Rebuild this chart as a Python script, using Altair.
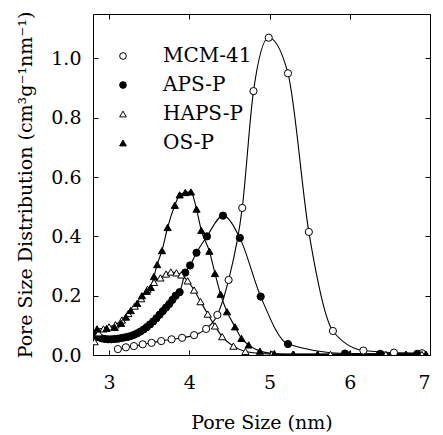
import altair as alt
import pandas as pd

# ---- data ----
series_names = ["MCM-41", "APS-P", "HAPS-P", "OS-P"]

mcm_x = [3.11, 3.21, 3.31, 3.42, 3.53, 3.65, 3.78, 3.91, 4.06, 4.21, 4.35, 4.49, 4.66, 4.80, 4.99, 5.23, 5.49, 5.79, 6.17, 6.55, 6.90]
mcm_y = [0.020, 0.026, 0.030, 0.036, 0.041, 0.047, 0.053, 0.058, 0.067, 0.088, 0.135, 0.253, 0.496, 0.890, 1.070, 0.950, 0.415, 0.081, 0.015, 0.008, 0.006]

aps_x = [2.83, 2.87, 2.91, 2.95, 2.99, 3.03, 3.07, 3.11, 3.15, 3.19, 3.23, 3.27, 3.31, 3.35, 3.39, 3.43, 3.47, 3.51, 3.55, 3.59, 3.63, 3.67, 3.71, 3.75, 3.79, 3.83, 3.88, 3.95, 4.01, 4.09, 4.22, 4.42, 4.63, 4.89, 5.23, 5.94, 6.38, 6.84]
aps_y = [0.065, 0.060, 0.056, 0.054, 0.053, 0.053, 0.054, 0.055, 0.057, 0.059, 0.061, 0.064, 0.068, 0.073, 0.079, 0.086, 0.094, 0.103, 0.113, 0.124, 0.136, 0.148, 0.160, 0.172, 0.186, 0.200, 0.212, 0.278, 0.302, 0.345, 0.400, 0.470, 0.395, 0.197, 0.037, 0.005, 0.004, 0.004]

haps_x = [2.82, 2.87, 2.93, 3.00, 3.08, 3.16, 3.24, 3.32, 3.40, 3.48, 3.56, 3.64, 3.71, 3.77, 3.84, 3.90, 3.98, 4.06, 4.14, 4.23, 4.32, 4.41, 4.55, 4.70, 5.03, 5.29, 5.76, 6.45, 6.90]
haps_y = [0.045, 0.075, 0.088, 0.095, 0.102, 0.118, 0.140, 0.165, 0.190, 0.222, 0.245, 0.260, 0.273, 0.280, 0.277, 0.270, 0.250, 0.219, 0.180, 0.138, 0.098, 0.062, 0.030, 0.012, 0.003, 0.002, 0.002, 0.002, 0.002]

os_x = [2.85, 2.97, 3.07, 3.15, 3.21, 3.27, 3.35, 3.41, 3.47, 3.52, 3.56, 3.60, 3.66, 3.73, 3.82, 3.88, 3.95, 4.02, 4.09, 4.15, 4.25, 4.32, 4.39, 4.47, 4.57, 4.65, 4.74, 4.88, 5.06, 5.30, 5.60, 6.00, 6.35, 6.70, 6.95]
os_y = [0.088, 0.090, 0.093, 0.107, 0.128, 0.150, 0.174, 0.200, 0.215, 0.228, 0.265, 0.305, 0.352, 0.430, 0.505, 0.540, 0.548, 0.550, 0.492, 0.420, 0.350, 0.275, 0.205, 0.146, 0.095, 0.056, 0.034, 0.013, 0.005, 0.003, 0.003, 0.003, 0.003, 0.003, 0.003]

x_ticks = [3, 4, 5, 6, 7]
y_ticks = [0.0, 0.2, 0.4, 0.6, 0.8, 1.0]

rows = []
for name, xs, ys in zip(series_names, [mcm_x, aps_x, haps_x, os_x], [mcm_y, aps_y, haps_y, os_y]):
    for a, b in zip(xs, ys):
        rows.append({"series": name, "x": a, "y": b})
df = pd.DataFrame(rows)

FONT = "DejaVu Serif"
xdom = [2.8, 7.0]
ydom = [0.0, 1.15]

xscale = alt.Scale(domain=xdom, nice=False, zero=False)
yscale = alt.Scale(domain=ydom, nice=False, zero=False)

x_axis = alt.Axis(values=x_ticks, format="d", grid=False, domain=False, tickSize=5, offset=-5,
                  tickColor="black", labelFont=FONT, labelFontSize=19, labelPadding=18, labelColor="black",
                  title="Pore Size (nm)", titleFont=FONT, titleFontSize=19, titleFontWeight="normal",
                  titleColor="black", titlePadding=21)
y_axis = alt.Axis(values=y_ticks, format=".1f", grid=False, domain=False, tickSize=5, offset=-5,
                  tickColor="black", labelFont=FONT, labelFontSize=19, labelPadding=12, labelColor="black",
                  title="Pore Size Distribution (cm³g⁻¹nm⁻¹)", titleFont=FONT, titleFontSize=19,
                  titleFontWeight="normal", titleColor="black", titlePadding=15)

base = alt.Chart(df)

lines = base.mark_line(color="black", strokeWidth=1.1, interpolate="monotone", clip=True).encode(
    x=alt.X("x:Q", scale=xscale, axis=x_axis),
    y=alt.Y("y:Q", scale=yscale, axis=y_axis),
    detail="series:N",
)

legend = alt.Legend(title=None, orient="none", legendX=20, legendY=32, labelFontSize=20,
                    labelFont=FONT, labelColor="black", symbolSize=45, symbolStrokeColor="black",
                    symbolStrokeWidth=1, labelOffset=30, rowPadding=9, padding=0)

points = base.mark_point(filled=True, strokeWidth=1, size=52, opacity=1, clip=True).encode(
    x=alt.X("x:Q", scale=xscale, axis=x_axis),
    y=alt.Y("y:Q", scale=yscale, axis=y_axis),
    shape=alt.Shape("series:N", sort=series_names,
                    scale=alt.Scale(domain=series_names, range=["circle", "circle", "triangle-up", "triangle-up"]),
                    legend=legend),
    fill=alt.Fill("series:N", sort=series_names,
                  scale=alt.Scale(domain=series_names, range=["white", "black", "white", "black"]),
                  legend=legend),
    stroke=alt.Stroke("series:N", sort=series_names,
                      scale=alt.Scale(domain=series_names, range=["black", "black", "black", "black"]),
                      legend=legend),
)

main = alt.layer(lines, points)

frame = base.mark_point(opacity=0).encode(
    x=alt.X("x:Q", scale=xscale,
            axis=alt.Axis(orient="top", values=x_ticks, labels=False, title=None, grid=False,
                          domain=False, tickSize=5, offset=-5, tickColor="black")),
    y=alt.Y("y:Q", scale=yscale,
            axis=alt.Axis(orient="right", values=y_ticks, labels=False, title=None, grid=False,
                          domain=False, tickSize=5, offset=-5, tickColor="black")),
)

chart = alt.layer(main, frame).resolve_scale(x="independent", y="independent").properties(
    width=337, height=341,
    autosize=alt.AutoSizeParams(type="none"),
    padding={"left": 85, "top": 6, "right": 5, "bottom": 78},
).configure_view(stroke="black", strokeWidth=1)

chart.save("out.html", embed_options={"renderer": "svg", "actions": False})
